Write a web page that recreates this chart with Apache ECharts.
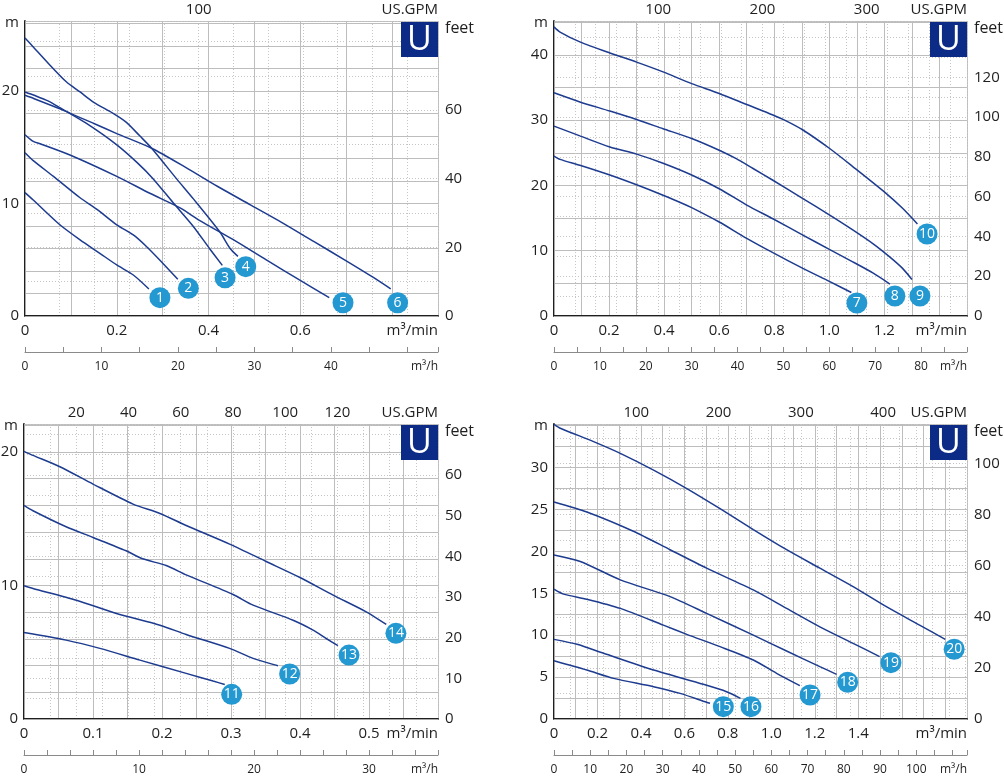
<!DOCTYPE html>
<html>
<head>
<meta charset="utf-8">
<title>Pump curves</title>
<script src="https://cdn.jsdelivr.net/npm/echarts@6/dist/echarts.min.js"></script>
<style>
  html, body { margin: 0; padding: 0; background: #fff; }
  #chart { width: 1004px; height: 780px; }
</style>
</head>
<body>
<div id="chart"></div>
<script>
// ---- data (flow in m³/min, head in m) ----
var p1Curves = [
  [[0,10.96],[0.018,10.3],[0.076,8.1],[0.12,6.76],[0.163,5.57],[0.2,4.53],[0.236,3.64],[0.27,2.4]],
  [[0,14.5],[0.018,13.8],[0.062,12.4],[0.12,10.5],[0.156,9.5],[0.2,8.1],[0.236,7.2],[0.264,6.2],[0.293,5.0],[0.333,3.26]],
  [[0,19.9],[0.02,19.6],[0.05,19.1],[0.076,18.5],[0.134,17.1],[0.2,15.2],[0.245,13.6],[0.279,12.2],[0.322,10.1],[0.366,8.0],[0.402,6.0],[0.43,4.5]],
  [[0,24.7],[0.018,23.9],[0.054,22.3],[0.09,20.8],[0.12,19.9],[0.149,19.0],[0.192,18.0],[0.221,17.2],[0.25,16.0],[0.276,14.9],[0.33,12.2],[0.367,10.4],[0.424,7.5],[0.447,6.0],[0.464,5.3]],
  [[0,16.1],[0.018,15.5],[0.033,15.3],[0.098,14.3],[0.2,12.4],[0.272,10.9],[0.338,9.6],[0.38,8.5],[0.453,6.8],[0.525,5.0],[0.598,3.2],[0.663,1.63]],
  [[0,19.6],[0.02,19.3],[0.076,18.4],[0.15,17.1],[0.2,16.2],[0.276,14.9],[0.35,13.2],[0.42,11.5],[0.49,9.9],[0.56,8.3],[0.63,6.6],[0.7,4.9],[0.76,3.4],[0.797,2.4]]
];
var p1Tags = [[0.294,1.63,'1'],[0.356,2.46,'2'],[0.436,3.40,'3'],[0.481,4.38,'4'],[0.693,1.18,'5'],[0.812,1.18,'6']];

var p2Curves = [
  [[0,24.5],[0.022,24.0],[0.094,23.1],[0.203,21.6],[0.3,20.1],[0.396,18.5],[0.469,17.2],[0.5,16.6],[0.6,14.4],[0.7,11.9],[0.795,9.7],[0.904,7.3],[1.0,5.3],[1.08,3.6]],
  [[0,29.1],[0.094,27.6],[0.203,25.9],[0.3,24.8],[0.396,23.4],[0.5,21.6],[0.6,19.5],[0.7,17.0],[0.795,14.9],[0.904,12.4],[1.0,10.2],[1.085,8.3],[1.158,6.6],[1.22,4.9]],
  [[0,34.2],[0.094,32.8],[0.203,31.4],[0.3,30.1],[0.396,28.7],[0.5,27.2],[0.6,25.4],[0.662,24.1],[0.723,22.6],[0.795,20.8],[0.904,18.0],[1.0,15.5],[1.085,13.2],[1.158,11.1],[1.218,9.1],[1.266,7.3],[1.3,5.6]],
  [[0,44.3],[0.022,43.5],[0.094,42.0],[0.203,40.3],[0.3,38.9],[0.396,37.4],[0.5,35.6],[0.6,34.1],[0.7,32.4],[0.795,30.8],[0.843,29.9],[0.904,28.5],[1.0,25.7],[1.085,22.9],[1.206,18.8],[1.266,16.5],[1.32,14.1]]
];
var p2Tags = [[1.10,1.99,'7'],[1.238,3.06,'8'],[1.329,3.06,'9'],[1.355,12.56,'10']];

var p3Curves = [
  [[0,6.48],[0.061,5.91],[0.11,5.29],[0.168,4.41],[0.235,3.42],[0.274,2.84],[0.291,2.59]],
  [[0,9.98],[0.013,9.78],[0.076,8.9],[0.134,7.9],[0.197,7.03],[0.235,6.33],[0.298,5.29],[0.332,4.54],[0.368,3.99]],
  [[0,16.0],[0.013,15.6],[0.061,14.4],[0.1,13.6],[0.148,12.6],[0.172,12.0],[0.206,11.5],[0.235,10.8],[0.303,9.33],[0.332,8.53],[0.39,7.4],[0.419,6.66],[0.438,6.03],[0.455,5.49]],
  [[0,20.05],[0.013,19.75],[0.052,18.9],[0.1,17.6],[0.158,16.1],[0.197,15.4],[0.235,14.5],[0.298,13.1],[0.351,11.8],[0.4,10.6],[0.448,9.28],[0.496,8.03],[0.525,7.08]]
];
var p3Tags = [[0.301,1.85,'11'],[0.385,3.37,'12'],[0.471,4.79,'13'],[0.539,6.42,'14']];

var p4Curves = [
  [[0,6.96],[0.151,5.85],[0.274,4.85],[0.458,3.86],[0.58,3.06],[0.702,1.99],[0.718,1.87]],
  [[0,9.5],[0.106,8.91],[0.228,7.84],[0.458,5.85],[0.687,4.14],[0.794,3.26],[0.858,2.47]],
  [[0,15.5],[0.044,14.9],[0.151,14.3],[0.305,13.2],[0.503,11.2],[0.611,10.1],[0.764,8.63],[0.917,7.04],[1.024,5.45],[1.131,3.98]],
  [[0,19.57],[0.121,18.8],[0.305,16.6],[0.534,14.6],[0.702,12.6],[0.917,10.0],[1.07,8.11],[1.223,6.25],[1.3,5.33]],
  [[0,25.9],[0.151,24.7],[0.365,22.4],[0.534,20.2],[0.702,18.0],[0.917,15.4],[1.07,13.2],[1.223,11.0],[1.376,9.03],[1.498,7.44]],
  [[0,35.16],[0.029,34.7],[0.182,33.1],[0.305,31.7],[0.458,29.7],[0.611,27.5],[0.764,25.1],[0.917,22.6],[1.07,20.2],[1.223,18.0],[1.376,15.8],[1.529,13.4],[1.682,11.2],[1.8,9.5]]
];
var p4Tags = [[0.779,1.47,'15'],[0.906,1.47,'16'],[1.178,2.86,'17'],[1.351,4.38,'18'],[1.550,6.72,'19'],[1.841,8.32,'20']];

// axis ranges and labelled ticks
var flowMax = [0.9, 1.5, 0.6, 1.9];
var headMax = [26.2, 45.2, 22.1, 35.2];
var flowTicks = [[0,0.2,0.4,0.6],[0,0.2,0.4,0.6,0.8,1.0,1.2],[0,0.1,0.2,0.3,0.4,0.5],[0,0.2,0.4,0.6,0.8,1.0,1.2,1.4]];
var gpmTicks = [[100],[100,200,300],[20,40,60,80,100,120],[100,200,300,400]];
var hourTicks = [[0,10,20,30,40],[0,10,20,30,40,50,60,70,80],[0,10,20,30],[0,10,20,30,40,50,60,70,80,90,100]];
var headTicks = [[0,10,20],[0,10,20,30,40],[0,10,20],[0,5,10,15,20,25,30]];
var feetTicks = [[0,20,40,60],[0,20,40,60,80,100,120],[0,10,20,30,40,50,60],[0,20,40,60,80,100]];

var allCurves = [p1Curves, p2Curves, p3Curves, p4Curves];
var allTags = [p1Tags, p2Tags, p3Tags, p4Tags];

// grid steps
var flowStep = [0.1, 0.1, 0.05, 0.1];
var gpmStep = [20, 20, 10, 20];
var hourStep = [5, 5, 2, 5];
var headStep = [2, 5, 2, 2.5];
var feetStep = [10, 10, 5, 10];

var GPM = 264.172, FT = 0.3048;
var FONT = "'Open Sans', 'Noto Sans', sans-serif";
var INK = '#1f1f1f', LINE = '#1d3b8f', TAG = '#2498d0', BADGE = '#0b2b86';

var rects = [
  {left: 25, top: 21, width: 413, height: 295},
  {left: 554, top: 21, width: 413, height: 295},
  {left: 24, top: 424, width: 414, height: 295},
  {left: 554, top: 424, width: 413, height: 295}
];

function pick(list, fmt) {
  return function (v) {
    for (var i = 0; i < list.length; i++) {
      if (Math.abs(list[i] - v) < 1e-6) return fmt ? fmt(list[i]) : String(list[i]);
    }
    return '';
  };
}
function fmtFlow(v) { return v === 0 ? '0' : v.toFixed(1); }

var grid = [], xAxis = [], yAxis = [], series = [], graphic = [];

for (var k = 0; k < 4; k++) {
  var r = rects[k];
  grid.push({left: r.left, top: r.top, width: r.width, height: r.height, outerBoundsMode: 'none'});

  // m³/min (main, bottom)
  xAxis.push({
    gridIndex: k, type: 'value', position: 'bottom', min: 0, max: flowMax[k], interval: flowStep[k],
    axisLine: {show: true, onZero: false, lineStyle: {color: INK, width: 2}},
    axisTick: {show: false},
    axisLabel: {margin: 7, fontSize: 15, color: INK, fontFamily: FONT, formatter: pick(flowTicks[k], fmtFlow)},
    splitLine: {show: true, lineStyle: {color: '#bdbdbd', width: 1}}
  });
  // US.GPM (top)
  xAxis.push({
    gridIndex: k, type: 'value', position: 'top', min: 0, max: flowMax[k] * GPM, interval: gpmStep[k],
    axisLine: {show: true, lineStyle: {color: '#a8a8a8', width: 1}},
    axisTick: {show: false},
    axisLabel: {margin: 4, fontSize: 15, color: INK, fontFamily: FONT, formatter: pick(gpmTicks[k])},
    splitLine: {show: true, lineStyle: {color: '#c6c6c6', width: 1, type: [1, 2]}}
  });
  // m³/h (secondary bottom)
  xAxis.push({
    gridIndex: k, type: 'value', position: 'bottom', offset: 36, min: 0, max: flowMax[k] * 60, interval: hourStep[k],
    axisLine: {show: true, onZero: false, lineStyle: {color: '#8a8a8a', width: 1}},
    axisTick: {show: true, inside: true, length: 5, lineStyle: {color: '#8a8a8a'}},
    axisLabel: {margin: 9, fontSize: 12, color: INK, fontFamily: FONT, formatter: pick(hourTicks[k])},
    splitLine: {show: false}
  });

  // m (left)
  yAxis.push({
    gridIndex: k, type: 'value', position: 'left', min: 0, max: headMax[k], interval: headStep[k],
    axisLine: {show: true, onZero: false, lineStyle: {color: INK, width: 2}},
    axisTick: {show: false},
    axisLabel: {margin: 6, fontSize: 15, color: INK, fontFamily: FONT, formatter: pick(headTicks[k])},
    splitLine: {show: true, lineStyle: {color: '#bdbdbd', width: 1}}
  });
  // feet (right)
  yAxis.push({
    gridIndex: k, type: 'value', position: 'right', min: 0, max: headMax[k] / FT, interval: feetStep[k],
    axisLine: {show: true, lineStyle: {color: '#a8a8a8', width: 1}},
    axisTick: {show: false},
    axisLabel: {margin: 7, fontSize: 15, color: INK, fontFamily: FONT, formatter: pick(feetTicks[k])},
    splitLine: {show: true, lineStyle: {color: '#c6c6c6', width: 1, type: [1, 2]}}
  });

  var curves = allCurves[k];
  for (var c = 0; c < curves.length; c++) {
    series.push({
      type: 'line', xAxisIndex: 3 * k, yAxisIndex: 2 * k, data: curves[c],
      smooth: 0.25, showSymbol: false, silent: true,
      lineStyle: {color: LINE, width: 1.5}, z: 3
    });
  }
  series.push({
    type: 'scatter', xAxisIndex: 3 * k, yAxisIndex: 2 * k, data: allTags[k],
    symbol: 'circle', symbolSize: 21, itemStyle: {color: TAG, opacity: 1}, silent: true, z: 5,
    label: {show: true, position: 'inside', color: '#fff', fontSize: 14, fontFamily: FONT,
      formatter: function (p) { return p.value[2]; }}
  });

  var right = r.left + r.width, bottom = r.top + r.height;
  graphic.push(
    {type: 'text', left: r.left - 20, top: r.top - 6, style: {text: 'm', fill: INK, font: '15px ' + FONT}},
    {type: 'text', left: right + 7, top: r.top - 1, style: {text: 'feet', fill: INK, font: '16px ' + FONT}},
    {type: 'text', x: right, y: r.top - 11, style: {text: 'US.GPM', fill: INK, font: '15px ' + FONT, align: 'right', verticalAlign: 'middle'}},
    {type: 'text', x: right, y: bottom + 15, style: {text: 'm³/min', fill: INK, font: '15px ' + FONT, align: 'right', verticalAlign: 'middle'}},
    {type: 'text', x: right, y: bottom + 51, style: {text: 'm³/h', fill: INK, font: '12px ' + FONT, align: 'right', verticalAlign: 'middle'}},
    {type: 'rect', shape: {x: right - 37, y: r.top + 1, width: 37, height: 35}, style: {fill: BADGE}, z: 10},
    {type: 'text', x: right - 18.5, y: r.top + 19, z: 11, style: {text: 'U', fill: '#fff', font: '34px ' + FONT, align: 'center', verticalAlign: 'middle'}}
  );
}

var chart = echarts.init(document.getElementById('chart'));
chart.setOption({
  animation: false,
  backgroundColor: '#fff',
  grid: grid,
  xAxis: xAxis,
  yAxis: yAxis,
  series: series,
  graphic: graphic
});
</script>
</body>
</html>
